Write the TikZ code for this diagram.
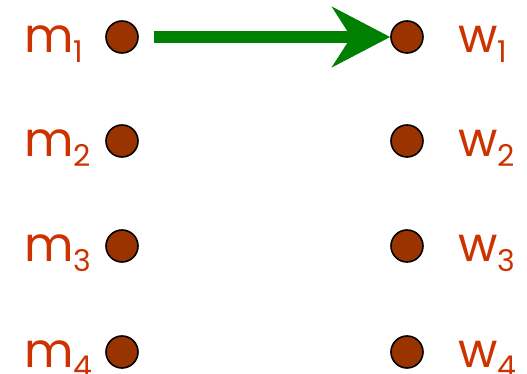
\documentclass[tikz,border=0pt]{standalone}
\usepackage{fontspec}
\setmainfont{Poppins}
\usetikzlibrary{arrows.meta}
\definecolor{dotbrown}{RGB}{153, 51, 0}
\definecolor{labred}{RGB}{204, 51, 0}
\definecolor{matchgreen}{RGB}{0, 128, 0}
\newcommand{\sublab}[2]{#1\raisebox{-5pt}{\fontsize{15}{15}\selectfont #2}}
\tikzset{
  person/.style={circle, fill=dotbrown, draw=black, line width=0.8pt, minimum size=16pt, inner sep=0pt},
  plabel/.style={text=labred, font=\fontsize{24}{24}\selectfont, inner sep=0pt, anchor=base west},
  proposal/.style={draw=matchgreen, line width=6pt, -{Stealth[length=29pt, width=30pt, inset=9.5pt]}, shorten <=7.5pt}
}

\begin{document}
\begin{tikzpicture}[x=0.5pt, y=-0.5pt]
\useasboundingbox (0,0) rectangle (527,374);
\foreach \i/\y in {1/37, 2/141, 3/246, 4/352} {
  \node[person] (m\i) at (122, \y) {};
  \node[person] (w\i) at (407, \y) {};
  \node[plabel] (lm\i) at (24, \y+16) {\sublab{m}{\i}};
  \node[plabel] (lw\i) at (458, \y+16) {\sublab{w}{\i}};
}
\draw[proposal] (m1) -- (w1);
\end{tikzpicture}
\end{document}
